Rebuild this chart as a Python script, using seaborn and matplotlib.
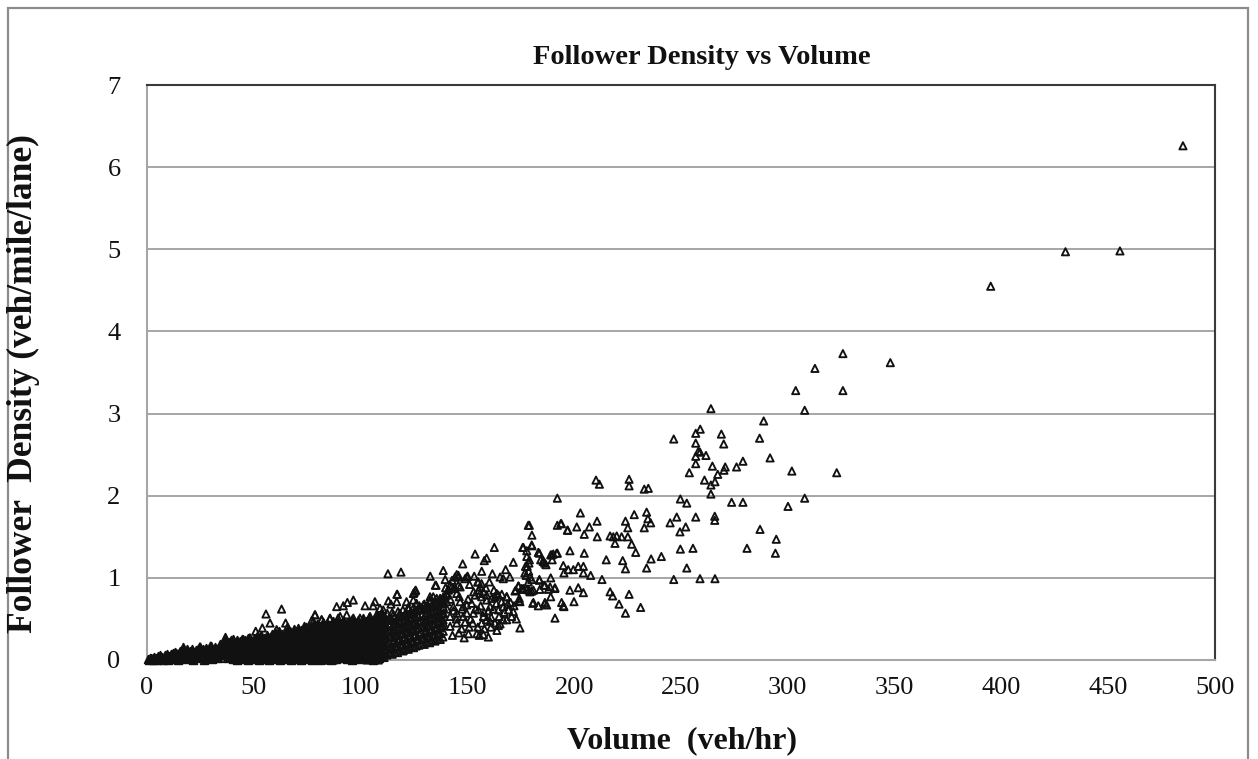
import matplotlib
matplotlib.use("Agg")
import matplotlib.pyplot as plt
import seaborn as sns
import pandas as pd
from matplotlib.patches import Rectangle

sns.set_style("white")
plt.rcParams["font.family"] = ["Liberation Serif", "DejaVu Serif"]

# ---- observations: (volume veh/hr, follower density veh/mile/lane) ----
dense_0_40 = [
    (0.3, 0.01), (0.8, 0.0), (1.2, 0.02), (1.7, 0.01), (2.1, 0.03), (2.6, 0.0), (3.0, 0.02), (3.5, 0.04),
    (3.9, 0.01), (4.4, 0.03), (4.8, 0.0), (5.3, 0.05), (5.7, 0.02), (6.1, 0.06), (6.6, 0.01), (7.1, 0.04),
    (7.5, 0.0), (8.0, 0.03), (8.4, 0.06), (8.9, 0.02), (9.2, 0.07), (9.8, 0.0), (10.2, 0.05), (10.7, 0.03),
    (11.1, 0.07), (11.6, 0.01), (12.0, 0.08), (12.5, 0.04), (12.9, 0.06), (13.1, 0.10), (13.4, 0.02),
    (13.8, 0.09), (14.3, 0.05), (14.7, 0.0), (15.2, 0.08), (15.6, 0.11), (16.1, 0.03), (16.5, 0.06),
    (17.0, 0.16), (17.4, 0.10), (17.9, 0.01), (18.3, 0.05), (18.8, 0.13), (19.2, 0.08), (19.7, 0.02),
    (20.1, 0.11), (20.6, 0.06), (21.0, 0.14), (21.5, 0.0), (21.9, 0.09), (22.4, 0.04), (22.8, 0.12),
    (23.3, 0.07), (23.7, 0.14), (24.2, 0.02), (24.8, 0.16), (25.1, 0.10), (25.6, 0.05), (26.0, 0.13),
    (26.5, 0.0), (26.9, 0.08), (27.4, 0.15), (27.8, 0.03), (28.3, 0.11), (28.7, 0.06), (29.2, 0.14),
    (29.8, 0.17), (30.1, 0.09), (30.5, 0.01), (31.0, 0.12), (31.4, 0.05), (31.9, 0.16), (32.3, 0.08),
    (32.8, 0.14), (33.2, 0.02), (33.7, 0.11), (34.1, 0.19), (34.6, 0.06), (35.0, 0.14), (35.5, 0.21),
    (35.9, 0.09), (36.5, 0.28), (36.8, 0.18), (37.3, 0.03), (37.7, 0.12), (38.2, 0.22), (38.6, 0.07),
    (39.1, 0.16), (39.5, 0.24), (40.0, 0.10), (40.4, 0.25), (40.4, 0.01),
]

dense_40_80 = [
    (41.0, 0.02), (41.0, 0.09), (41.2, 0.15), (40.8, 0.21),
    (42.2, 0.0), (42.4, 0.06), (42.1, 0.12), (42.3, 0.19), (42.0, 0.24),
    (43.5, 0.03), (43.6, 0.10), (43.3, 0.17), (43.7, 0.23),
    (44.8, 0.01), (44.6, 0.07), (45.0, 0.14), (44.9, 0.20), (44.7, 0.26),
    (46.0, 0.04), (46.2, 0.11), (45.9, 0.18), (46.1, 0.24),
    (47.3, 0.0), (47.1, 0.08), (47.5, 0.15), (47.2, 0.21), (47.4, 0.27),
    (48.5, 0.03), (48.7, 0.10), (48.4, 0.17), (48.6, 0.24),
    (49.8, 0.01), (49.6, 0.06), (50.0, 0.13), (49.7, 0.20), (49.9, 0.26),
    (51.0, 0.04), (51.2, 0.11), (50.9, 0.18), (51.1, 0.24), (51.3, 0.29),
    (52.3, 0.0), (52.1, 0.08), (52.5, 0.15), (52.2, 0.22), (52.4, 0.27),
    (53.5, 0.03), (53.7, 0.10), (53.4, 0.17), (53.6, 0.25), (53.3, 0.30),
    (54.8, 0.01), (54.6, 0.06), (55.0, 0.13), (54.7, 0.20), (54.9, 0.27),
    (56.0, 0.04), (56.2, 0.11), (55.9, 0.18), (56.1, 0.24), (56.3, 0.31),
    (57.3, 0.0), (57.1, 0.08), (57.5, 0.15), (57.2, 0.22), (57.4, 0.28),
    (58.5, 0.03), (58.7, 0.10), (58.4, 0.17), (58.6, 0.25), (58.3, 0.32),
    (59.8, 0.01), (59.6, 0.07), (60.0, 0.14), (59.7, 0.21), (59.9, 0.28), (60.1, 0.34),
    (61.0, 0.04), (61.2, 0.11), (60.9, 0.18), (61.1, 0.26), (61.3, 0.31),
    (62.3, 0.0), (62.1, 0.08), (62.5, 0.15), (62.2, 0.22), (62.4, 0.29), (62.0, 0.35),
    (63.5, 0.03), (63.7, 0.10), (63.4, 0.17), (63.6, 0.24), (63.3, 0.32),
    (64.8, 0.01), (64.6, 0.06), (65.0, 0.13), (64.7, 0.20), (64.9, 0.27), (65.1, 0.34),
    (66.0, 0.04), (66.2, 0.11), (65.9, 0.18), (66.1, 0.26), (66.3, 0.33), (65.8, 0.37),
    (67.3, 0.0), (67.1, 0.08), (67.5, 0.15), (67.2, 0.22), (67.4, 0.29), (67.0, 0.35),
    (68.5, 0.03), (68.7, 0.10), (68.4, 0.17), (68.6, 0.24), (68.3, 0.31), (68.8, 0.38),
    (69.8, 0.01), (69.6, 0.07), (70.0, 0.14), (69.7, 0.21), (69.9, 0.28), (70.1, 0.35),
    (71.0, 0.04), (71.2, 0.11), (70.9, 0.18), (71.1, 0.26), (71.3, 0.33), (70.8, 0.39),
    (72.3, 0.0), (72.1, 0.08), (72.5, 0.15), (72.2, 0.22), (72.4, 0.29), (72.0, 0.36),
    (73.5, 0.03), (73.7, 0.10), (73.4, 0.17), (73.6, 0.24), (73.3, 0.31), (73.8, 0.38), (73.5, 0.42),
    (74.8, 0.01), (74.6, 0.06), (75.0, 0.13), (74.7, 0.20), (74.9, 0.27), (75.1, 0.34), (74.5, 0.40),
    (76.0, 0.04), (76.2, 0.11), (75.9, 0.18), (76.1, 0.26), (76.3, 0.33), (75.8, 0.39),
    (77.3, 0.0), (77.1, 0.08), (77.5, 0.15), (77.2, 0.22), (77.4, 0.29), (77.0, 0.36), (77.6, 0.43),
    (78.5, 0.03), (78.7, 0.10), (78.4, 0.17), (78.6, 0.24), (78.3, 0.31), (78.8, 0.38), (78.5, 0.42),
    (79.8, 0.01), (79.6, 0.07), (80.0, 0.14), (79.7, 0.21), (79.9, 0.28), (80.1, 0.35), (79.5, 0.44),
]

dense_80_110 = [
    (81.0, 0.0), (81.2, 0.07), (80.9, 0.14), (81.1, 0.21), (81.3, 0.28), (80.8, 0.35), (81.0, 0.42),
    (82.3, 0.03), (82.1, 0.10), (82.5, 0.17), (82.2, 0.24), (82.4, 0.31), (82.0, 0.38), (82.3, 0.46),
    (83.5, 0.01), (83.7, 0.06), (83.4, 0.13), (83.6, 0.20), (83.3, 0.27), (83.8, 0.34), (83.5, 0.41),
    (84.8, 0.04), (84.6, 0.11), (85.0, 0.18), (84.7, 0.25), (84.9, 0.32), (85.1, 0.39), (84.5, 0.45),
    (86.0, 0.0), (86.2, 0.08), (85.9, 0.15), (86.1, 0.22), (86.3, 0.29), (85.8, 0.36), (86.0, 0.43),
    (87.3, 0.03), (87.1, 0.10), (87.5, 0.17), (87.2, 0.24), (87.4, 0.31), (87.0, 0.38), (87.3, 0.47),
    (88.5, 0.01), (88.7, 0.06), (88.4, 0.13), (88.6, 0.20), (88.3, 0.27), (88.8, 0.34), (88.5, 0.42),
    (89.8, 0.04), (89.6, 0.11), (90.0, 0.18), (89.7, 0.25), (89.9, 0.32), (90.1, 0.40), (89.5, 0.46),
    (91.0, 0.02), (91.2, 0.08), (90.9, 0.15), (91.1, 0.22), (91.3, 0.29), (90.8, 0.36), (91.0, 0.44),
    (92.3, 0.05), (92.1, 0.12), (92.5, 0.19), (92.2, 0.26), (92.4, 0.33), (92.0, 0.41), (92.3, 0.48),
    (93.5, 0.01), (93.7, 0.09), (93.4, 0.16), (93.6, 0.23), (93.3, 0.30), (93.8, 0.37), (93.5, 0.45),
    (94.8, 0.04), (94.6, 0.11), (95.0, 0.18), (94.7, 0.25), (94.9, 0.32), (95.1, 0.39), (94.5, 0.47),
    (96.0, 0.0), (96.2, 0.07), (95.9, 0.14), (96.1, 0.21), (96.3, 0.28), (95.8, 0.35), (96.0, 0.43), (96.2, 0.50),
    (97.3, 0.03), (97.1, 0.10), (97.5, 0.17), (97.2, 0.24), (97.4, 0.31), (97.0, 0.38), (97.3, 0.46),
    (98.5, 0.01), (98.7, 0.06), (98.4, 0.13), (98.6, 0.20), (98.3, 0.27), (98.8, 0.34), (98.5, 0.41), (98.7, 0.49),
    (99.8, 0.04), (99.6, 0.11), (100.0, 0.18), (99.7, 0.25), (99.9, 0.32), (100.1, 0.39), (99.5, 0.45),
    (101.0, 0.02), (101.2, 0.08), (100.9, 0.15), (101.1, 0.22), (101.3, 0.29), (100.8, 0.36), (101.0, 0.43), (101.2, 0.51),
    (102.3, 0.05), (102.1, 0.12), (102.5, 0.19), (102.2, 0.26), (102.4, 0.33), (102.0, 0.40), (102.3, 0.47),
    (103.5, 0.01), (103.7, 0.09), (103.4, 0.16), (103.6, 0.23), (103.3, 0.30), (103.8, 0.37), (103.5, 0.44), (103.7, 0.52),
    (104.8, 0.03), (104.6, 0.10), (105.0, 0.17), (104.7, 0.24), (104.9, 0.31), (105.1, 0.38), (104.5, 0.46),
    (106.0, 0.0), (106.2, 0.07), (105.9, 0.14), (106.1, 0.21), (106.3, 0.28), (105.8, 0.35), (106.0, 0.42), (106.2, 0.50),
    (107.3, 0.04), (107.1, 0.11), (107.5, 0.18), (107.2, 0.25), (107.4, 0.32), (107.0, 0.39), (107.3, 0.47), (107.5, 0.53),
    (108.5, 0.02), (108.7, 0.09), (108.4, 0.16), (108.6, 0.23), (108.3, 0.30), (108.8, 0.37), (108.5, 0.44), (108.7, 0.51),
    (109.8, 0.05), (109.6, 0.12), (110.0, 0.19), (109.7, 0.26), (109.9, 0.33), (110.1, 0.40), (109.5, 0.48), (109.8, 0.55),
]

dense_110_140 = [
    (111.0, 0.03), (111.2, 0.10), (110.9, 0.17), (111.1, 0.24), (111.3, 0.31), (110.8, 0.38), (111.0, 0.45), (111.2, 0.53),
    (112.3, 0.06), (112.1, 0.13), (112.5, 0.20), (112.2, 0.27), (112.4, 0.34), (112.0, 0.41), (112.3, 0.49), (112.5, 0.57),
    (113.5, 0.08), (113.7, 0.15), (113.4, 0.22), (113.6, 0.29), (113.3, 0.36), (113.8, 0.43), (113.5, 0.51),
    (114.8, 0.07), (114.6, 0.14), (115.0, 0.21), (114.7, 0.28), (114.9, 0.35), (115.1, 0.42), (114.5, 0.48), (114.8, 0.58),
    (116.0, 0.10), (116.2, 0.17), (115.9, 0.24), (116.1, 0.31), (116.3, 0.38), (115.8, 0.45), (116.0, 0.53),
    (117.3, 0.09), (117.1, 0.16), (117.5, 0.23), (117.2, 0.30), (117.4, 0.37), (117.0, 0.44), (117.3, 0.51), (117.5, 0.59),
    (118.5, 0.12), (118.7, 0.19), (118.4, 0.26), (118.6, 0.33), (118.3, 0.40), (118.8, 0.47), (118.5, 0.55),
    (119.8, 0.11), (119.6, 0.18), (120.0, 0.25), (119.7, 0.32), (119.9, 0.39), (120.1, 0.46), (119.5, 0.53), (119.8, 0.61),
    (121.0, 0.14), (121.2, 0.21), (120.9, 0.28), (121.1, 0.35), (121.3, 0.42), (120.8, 0.49), (121.0, 0.57),
    (122.3, 0.13), (122.1, 0.20), (122.5, 0.27), (122.2, 0.34), (122.4, 0.41), (122.0, 0.48), (122.3, 0.55), (122.5, 0.62),
    (123.5, 0.16), (123.7, 0.23), (123.4, 0.30), (123.6, 0.37), (123.3, 0.44), (123.8, 0.51), (123.5, 0.59),
    (124.8, 0.15), (124.6, 0.22), (125.0, 0.29), (124.7, 0.36), (124.9, 0.43), (125.1, 0.50), (124.5, 0.57), (124.8, 0.64),
    (126.0, 0.17), (126.2, 0.24), (125.9, 0.31), (126.1, 0.38), (126.3, 0.45), (125.8, 0.52), (126.0, 0.60),
    (127.3, 0.18), (127.1, 0.25), (127.5, 0.32), (127.2, 0.39), (127.4, 0.46), (127.0, 0.53), (127.3, 0.61), (127.5, 0.66),
    (128.5, 0.20), (128.7, 0.27), (128.4, 0.34), (128.6, 0.41), (128.3, 0.48), (128.8, 0.55), (128.5, 0.63),
    (129.8, 0.19), (129.6, 0.26), (130.0, 0.33), (129.7, 0.40), (129.9, 0.47), (130.1, 0.54), (129.5, 0.62), (129.8, 0.68),
    (131.0, 0.22), (131.2, 0.29), (130.9, 0.36), (131.1, 0.43), (131.3, 0.50), (130.8, 0.57), (131.0, 0.65),
    (132.3, 0.21), (132.1, 0.28), (132.5, 0.35), (132.2, 0.42), (132.4, 0.49), (132.0, 0.56), (132.3, 0.63), (132.5, 0.70),
    (133.5, 0.24), (133.7, 0.31), (133.4, 0.38), (133.6, 0.45), (133.3, 0.52), (133.8, 0.59), (133.5, 0.67),
    (134.8, 0.23), (134.6, 0.30), (135.0, 0.37), (134.7, 0.44), (134.9, 0.51), (135.1, 0.58), (134.5, 0.66), (134.8, 0.72),
    (136.0, 0.26), (136.2, 0.33), (135.9, 0.40), (136.1, 0.47), (136.3, 0.54), (135.8, 0.61), (136.0, 0.69),
    (137.3, 0.25), (137.1, 0.32), (137.5, 0.39), (137.2, 0.46), (137.4, 0.53), (137.0, 0.60), (137.3, 0.68), (137.5, 0.74),
    (138.5, 0.28), (138.7, 0.35), (138.4, 0.42), (138.6, 0.49), (138.3, 0.56), (138.8, 0.64), (138.5, 0.71),
]

scatter_0_140 = [
    (55.7, 0.56), (63.0, 0.62), (57.6, 0.45), (54.0, 0.39), (50.9, 0.35), (60.7, 0.37), (64.9, 0.45),
    (65.8, 0.40), (45.1, 0.25), (48.2, 0.27), (29.8, 0.17), (24.8, 0.16), (78.6, 0.55), (77.1, 0.48),
    (81.7, 0.49), (85.6, 0.50), (89.5, 0.51),
    (112.8, 1.05), (118.9, 1.07), (132.6, 1.02), (138.7, 1.09), (135.0, 0.91), (125.8, 0.85), (125.0, 0.82),
    (117.0, 0.80), (139.8, 0.88), (141.0, 0.86), (88.8, 0.65), (91.9, 0.66), (93.8, 0.70), (96.6, 0.73),
    (102.1, 0.66), (106.7, 0.71), (105.9, 0.66), (113.0, 0.72), (114.2, 0.68), (116.9, 0.71), (109.1, 0.63),
    (110.6, 0.61), (108.3, 0.53), (121.5, 0.71), (124.7, 0.73), (126.2, 0.69), (122.3, 0.64), (125.5, 0.61),
    (127.8, 0.63), (129.4, 0.67), (131.0, 0.65), (132.5, 0.73), (134.0, 0.77), (137.2, 0.75), (135.6, 0.69),
    (138.7, 0.71), (78.7, 0.55), (81.8, 0.49), (77.9, 0.47), (85.7, 0.51), (87.2, 0.45), (90.4, 0.53),
    (93.5, 0.55), (96.6, 0.51), (99.7, 0.51), (104.4, 0.53), (107.5, 0.55), (115.3, 0.55), (118.4, 0.57),
    (120.8, 0.53), (82.0, 0.0), (84.1, 0.0), (87.2, 0.0), (102.8, 0.0), (108.3, 0.0), (98.2, 0.04),
    (95.0, 0.08), (113.8, 0.08), (120.0, 0.12), (117.2, 0.80), (124.7, 0.81), (125.5, 0.84),
    (132.5, 0.77), (135.6, 0.75), (135.3, 0.91), (140.3, 0.79),
]

scatter_140_200 = [
    (145.0, 1.04), (145.7, 1.01), (150.1, 1.02), (148.9, 0.99), (147.8, 1.17), (153.6, 1.29), (157.9, 1.21),
    (159.0, 1.24), (162.6, 1.37), (156.7, 1.08), (171.5, 1.19), (167.9, 1.10), (165.3, 1.01), (166.8, 0.99),
    (169.9, 1.01), (178.5, 1.64), (175.9, 1.37), (177.2, 1.14), (177.5, 1.03), (178.5, 0.95), (154.8, 0.95),
    (156.6, 0.93), (155.4, 0.85), (157.5, 0.83), (141.1, 0.85), (142.6, 0.89), (144.2, 0.87), (145.7, 0.91),
    (145.0, 0.81), (173.8, 0.90), (175.9, 0.86), (172.3, 0.84), (138.7, 0.77), (159.0, 0.79), (163.7, 0.81),
    (168.4, 0.77), (174.3, 0.75),
    (144.2, 1.01), (145.8, 1.03), (149.7, 1.01), (141.9, 0.91), (143.4, 0.87), (140.3, 0.81), (139.5, 0.77),
    (146.6, 0.89), (138.0, 0.69), (140.3, 0.71), (143.4, 0.65), (146.6, 0.71), (148.1, 0.65), (149.7, 0.67),
    (152.0, 0.69), (138.8, 0.57), (141.9, 0.53), (145.0, 0.57), (148.1, 0.53), (149.7, 0.57), (152.8, 0.57),
    (155.1, 0.61), (138.8, 0.45), (141.9, 0.41), (145.0, 0.45), (147.3, 0.38), (150.5, 0.32), (154.4, 0.32),
    (155.9, 0.89), (155.1, 0.95), (155.9, 0.81), (153.6, 0.79), (156.7, 0.77), (159.0, 0.73), (161.4, 0.75),
    (162.9, 0.77), (164.5, 0.79), (166.1, 0.80), (168.4, 0.77), (160.6, 0.65), (162.2, 0.62), (164.5, 0.61),
    (166.8, 0.65), (169.2, 0.61), (171.5, 0.59), (170.7, 0.53), (168.4, 0.49), (166.8, 0.49), (162.9, 0.45),
    (164.5, 0.42), (165.3, 0.44), (157.5, 0.53), (159.0, 0.49), (160.6, 0.47), (156.7, 0.45), (155.6, 0.30),
    (157.5, 0.31), (159.8, 0.28),
    (140.5, 0.62), (142.0, 0.74), (143.5, 0.60), (144.8, 0.50), (146.2, 0.77), (147.5, 0.62), (148.9, 0.46),
    (150.3, 0.74), (151.5, 0.50), (152.9, 0.83), (153.8, 0.62), (154.9, 0.40), (156.2, 0.66), (157.8, 0.58),
    (158.6, 0.88), (159.9, 0.60), (161.1, 0.52), (162.4, 0.85), (163.5, 0.69), (164.8, 0.53), (166.0, 0.71),
    (167.3, 0.58), (168.9, 0.68), (170.2, 0.70), (171.8, 0.66), (172.9, 0.50), (139.6, 0.98), (142.8, 0.97),
    (151.0, 0.92), (153.2, 1.02), (160.3, 0.95), (161.7, 1.05), (150.8, 0.40), (146.0, 0.33), (143.0, 0.30),
    (148.5, 0.27), (152.5, 0.45), (158.0, 0.38), (161.0, 0.40), (163.8, 0.36),
    (180.1, 1.40), (177.8, 1.26), (179.0, 1.22), (183.2, 1.31), (185.5, 1.21), (186.8, 1.16), (189.5, 1.28),
    (191.8, 1.30), (174.0, 0.90), (175.4, 0.87), (172.7, 0.85), (177.8, 0.86), (179.3, 0.83), (180.9, 0.85),
    (174.2, 0.72), (183.7, 0.98), (186.3, 0.91), (188.7, 0.89), (191.0, 0.88), (180.6, 0.69), (186.3, 0.69),
    (193.7, 1.66), (196.8, 1.58),
]

scatter_170_260 = [
    (256.9, 2.76), (246.6, 2.69), (256.9, 2.64), (258.1, 2.54), (256.9, 2.48), (256.9, 2.39), (253.9, 2.28),
    (210.2, 2.19), (211.8, 2.14), (225.7, 2.20), (225.7, 2.12), (232.8, 2.08), (234.7, 2.09), (192.1, 1.97),
    (249.7, 1.96), (252.7, 1.91), (202.9, 1.79), (228.1, 1.77), (233.9, 1.80), (234.5, 1.72), (235.8, 1.67),
    (248.0, 1.74), (256.9, 1.74), (244.9, 1.67), (179.0, 1.64), (192.1, 1.64), (194.0, 1.66), (197.0, 1.58),
    (201.2, 1.62), (207.1, 1.62), (210.7, 1.69), (224.0, 1.69), (225.1, 1.61), (232.8, 1.61), (252.2, 1.62),
    (249.5, 1.56), (180.2, 1.52), (204.7, 1.53), (210.8, 1.50), (216.8, 1.51), (218.3, 1.50), (219.9, 1.51),
    (222.2, 1.50), (225.1, 1.50), (219.1, 1.42), (226.9, 1.41), (228.8, 1.31), (180.2, 1.39), (176.2, 1.37),
    (177.8, 1.33), (183.7, 1.30), (184.3, 1.22), (185.5, 1.20), (186.2, 1.18), (189.0, 1.28), (190.2, 1.29),
    (192.1, 1.30), (189.7, 1.22), (198.0, 1.33), (204.7, 1.30), (215.0, 1.22), (222.7, 1.21), (224.0, 1.11),
    (233.9, 1.12), (236.0, 1.23), (240.8, 1.26), (249.7, 1.35), (255.6, 1.36), (252.7, 1.12), (178.8, 1.18),
    (178.0, 1.14), (176.9, 1.06), (178.7, 1.08), (194.9, 1.15), (197.2, 1.10), (199.6, 1.10), (201.9, 1.14),
    (204.3, 1.14), (204.3, 1.06), (195.2, 1.06), (207.7, 1.03), (213.0, 0.98), (246.6, 0.98), (180.1, 0.98),
    (179.3, 1.01), (183.7, 0.97), (189.0, 1.00), (176.2, 0.87), (180.1, 0.84), (178.8, 0.85), (183.9, 0.86),
    (185.8, 0.91), (187.9, 0.86), (190.9, 0.87), (189.0, 0.77), (198.0, 0.85), (201.9, 0.88), (204.3, 0.82),
    (199.9, 0.71), (194.1, 0.70), (194.9, 0.66), (216.8, 0.83), (218.0, 0.78), (225.7, 0.80), (221.0, 0.68),
    (231.1, 0.64), (224.0, 0.57), (174.6, 0.71), (180.9, 0.70), (183.2, 0.66), (186.3, 0.70), (187.1, 0.67),
    (191.0, 0.51), (174.6, 0.39), (195.2, 0.65),
]

scatter_high = [
    (485.0, 6.26), (455.5, 4.98), (430.0, 4.97), (395.0, 4.55), (348.0, 3.62), (325.8, 3.73), (312.7, 3.55),
    (325.8, 3.28), (303.7, 3.28), (307.9, 3.04), (264.0, 3.06), (288.7, 2.91), (259.0, 2.81), (268.9, 2.75),
    (286.8, 2.70), (270.0, 2.63), (261.7, 2.49), (258.9, 2.53), (291.7, 2.46), (279.0, 2.42), (264.7, 2.36),
    (276.0, 2.35), (270.7, 2.35), (270.1, 2.31), (301.9, 2.30), (322.9, 2.28), (267.2, 2.26), (261.0, 2.19),
    (265.9, 2.17), (264.0, 2.13), (264.0, 2.02), (307.9, 1.97), (273.7, 1.92), (279.0, 1.92), (300.1, 1.87),
    (265.8, 1.75), (265.8, 1.70), (287.0, 1.59), (294.6, 1.47), (280.9, 1.36), (294.2, 1.30), (258.9, 0.99),
    (265.9, 0.99),
]

x_ticks = [0, 50, 100, 150, 200, 250, 300, 350, 400, 450, 500]
y_ticks = [0, 1, 2, 3, 4, 5, 6, 7]

cols = ["volume", "density"]
core = pd.DataFrame(dense_0_40 + dense_40_80 + dense_80_110, columns=cols)
spread = pd.DataFrame(dense_110_140 + scatter_0_140 + scatter_140_200 + scatter_170_260 + scatter_high,
                      columns=cols)

W, H = 1258, 759
fig = plt.figure(figsize=(W / 100, H / 100), dpi=100)
ax = fig.add_axes([147 / W, 1 - 660 / H, (1215 - 147) / W, (660 - 85) / H])

ink = "#111111"
# heavily overlapping low-volume core: the outlines merge into a solid mass
sns.scatterplot(data=core, x="volume", y="density", ax=ax, marker="^", s=30,
                linewidth=1.3, edgecolor=ink, color=ink,
                legend=False, clip_on=False, zorder=3)
# open triangles for the rest
sns.scatterplot(data=spread, x="volume", y="density", ax=ax, marker="^", s=27,
                linewidth=1.35, edgecolor=ink, color=ink,
                legend=False, clip_on=False, zorder=4)
ax.collections[1].set_facecolor("none")
ax.collections[1].set_edgecolor(ink)

ax.set_xlim(0, 500)
ax.set_ylim(0, 7)
ax.set_xticks(x_ticks)
ax.set_yticks(y_ticks)
ax.set_xlabel("")
ax.set_ylabel("")

grid_c = "#a6a6a6"
ax.set_axisbelow(True)
ax.yaxis.grid(True, color=grid_c, linewidth=1.4)
ax.xaxis.grid(False)
for side in ("left", "bottom"):
    ax.spines[side].set_color(grid_c)
    ax.spines[side].set_linewidth(1.5)
for side in ("top", "right"):
    ax.spines[side].set_color("#3a3a3a")
    ax.spines[side].set_linewidth(1.5)

ax.tick_params(axis="both", direction="out", length=7, width=1.3, color=grid_c,
               labelsize=19, labelcolor=ink)
ax.tick_params(axis="y", pad=12)
ax.tick_params(axis="x", pad=5)

fig.text(702 / W, 1 - 57 / H, "Follower Density vs Volume", ha="center", va="center",
         fontsize=20.5, fontweight="bold", color=ink)
fig.text(682 / W, 1 - 741 / H, "Volume  (veh/hr)", ha="center", va="center",
         fontsize=23, fontweight="bold", color=ink)
fig.text(23 / W, 1 - 384 / H, "Follower  Density (veh/mile/lane)", ha="center", va="center",
         rotation=90, fontsize=25.5, fontweight="bold", color=ink)

# outer chart border
fig.add_artist(Rectangle((8 / W, -0.05), (1248 - 8) / W, 1.05 - 8 / H,
                         transform=fig.transFigure, fill=False,
                         edgecolor="#8c8c8c", linewidth=1.6))

fig.savefig("out.png", dpi=100)
